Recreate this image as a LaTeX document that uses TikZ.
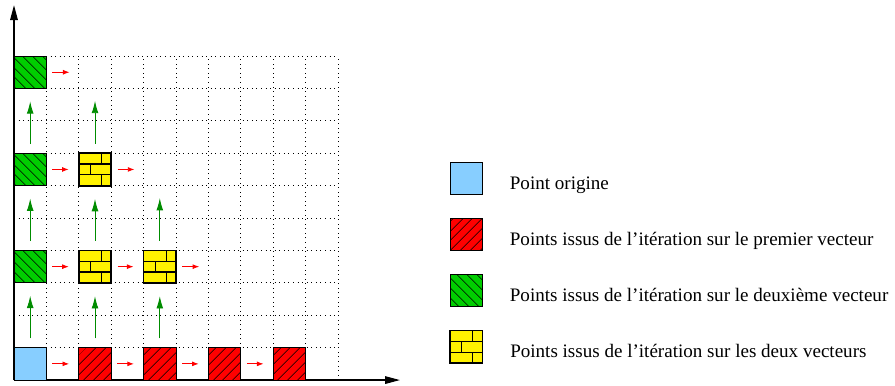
\documentclass[tikz,border=0pt]{standalone}
\usepackage{fontspec}
\setmainfont{Liberation Serif}
\usetikzlibrary{arrows.meta,patterns.meta,positioning}
\definecolor{ltblue}{RGB}{135,206,255}
\definecolor{figgreen}{RGB}{0,205,0}
\definecolor{darkgreen}{RGB}{0,140,0}
\tikzset{
  cellbox/.style={draw, line width=0.5pt, minimum size=17pt, inner sep=0pt},
  originbox/.style={cellbox, fill=ltblue},
  firstbox/.style={cellbox, fill=red, postaction={pattern={Lines[angle=45,distance=4pt,line width=0.4pt]}}},
  secondbox/.style={cellbox, fill=figgreen, postaction={pattern={Lines[angle=-45,distance=4pt,line width=0.4pt]}}},
  bothbox/.style={cellbox, line width=0.9pt, fill=yellow, path picture={
      \draw[line width=0.6pt]
        ([yshift=5.67pt]path picture bounding box.south west) -- ++(17pt,0) ++(-17pt,5.67pt) -- ++(17pt,0)
        ([xshift=11.9pt]path picture bounding box.south west) -- ++(0,5.67pt) ++(-5.78pt,0) -- ++(0,5.67pt) ++(5.78pt,0) -- ++(0,5.67pt);}},
  redarr/.style={red, line width=0.5pt, -{Latex[length=3.5pt,width=2.6pt]}, shorten <=2.9pt, shorten >=4.8pt},
  greenarr/.style={darkgreen, line width=0.5pt, -{Latex[length=6.5pt,width=3.6pt]}, shorten <=4.6pt, shorten >=6.5pt},
  legtext/.style={inner sep=0pt, font=\fontsize{10}{12}\selectfont},
}
\begin{document}
\begin{tikzpicture}[x=17pt, y=17pt]
    \useasboundingbox (-0.432,-0.154) rectangle (27.19,11.73);
    \draw[dotted, step=17pt] (0,0) grid (10,10); % grille
    \draw[line width=0.6pt, -{Triangle[length=7.8pt,width=4pt]}] (0,0) -- (11.91,0); % axe x
    \draw[line width=0.6pt, -{Triangle[length=7.8pt,width=4pt]}] (0,0) -- (0,11.57); % axe y
    \node[originbox] (o) at (0.5,0.5) {}; % point origine
    \foreach \i in {2,4,6,8}
        \node[firstbox] (a\i) at (\i+0.5,0.5) {};
    \foreach \j in {3,6,9}
        \node[secondbox] (b\j) at (0.5,\j+0.5) {};
    \node[bothbox] (c23) at (2.5,3.5) {};
    \node[bothbox] (c43) at (4.5,3.5) {};
    \node[bothbox] (c26) at (2.5,6.5) {};
    \coordinate (h63) at (6,3.5); % cases vides
    \coordinate (h46) at (4,6.5);
    \coordinate (h29) at (2,9.5);
    \coordinate (v46) at (4.5,6);
    \coordinate (v29) at (2.5,9);
    \foreach \p/\q in {o/a2,a2/a4,a4/a6,a6/a8,b3/c23,c23/c43,c43/h63,b6/c26,c26/h46,b9/h29}
        \draw[redarr] (\p) -- (\q);
    \foreach \p/\q in {o/b3,a2/c23,a4/c43,b3/b6,c23/c26,c43/v46,b6/b9,c26/v29}
        \draw[greenarr] (\p) -- (\q);
    % legende
    \node[originbox] (leg1) at (13.96,6.23) {};
    \node[firstbox, below=11.9pt of leg1] (leg2) {};
    \node[secondbox, below=11.9pt of leg2] (leg3) {};
    \node[bothbox, below=11.9pt of leg3] (leg4) {};
    \node[legtext, base right=13.9pt of leg1, yshift=-5.8pt] (txt1) {Point origine};
    \node[legtext, base right=13.9pt of leg2, yshift=-5.8pt] (txt2) {Points issus de l’itération sur le premier vecteur};
    \node[legtext, base right=13.9pt of leg3, yshift=-5.8pt] (txt3) {Points issus de l’itération sur le deuxième vecteur};
    \node[legtext, base right=13.9pt of leg4, yshift=-5.8pt] (txt4) {Points issus de l’itération sur les deux vecteurs};
\end{tikzpicture}
\end{document}
